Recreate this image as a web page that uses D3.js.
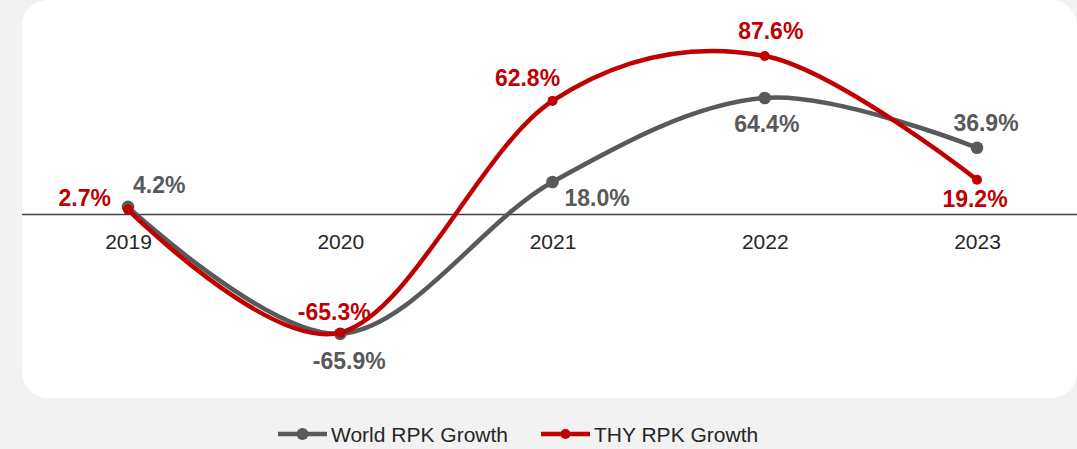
<!DOCTYPE html>
<html>
<head>
<meta charset="utf-8">
<script src="https://cdn.jsdelivr.net/npm/d3@7"></script>
<style>
  html, body { margin: 0; padding: 0; background: #f2f2f2; }
  svg { display: block; }
  text { font-family: "Liberation Sans", Arial, sans-serif; }
</style>
</head>
<body>
<svg id="chart" width="1077" height="449"></svg>
<script>
// ---- data ----
const years = ["2019", "2020", "2021", "2022", "2023"];
const worldRPK = [4.2, -65.9, 18.0, 64.4, 36.9];
const thyRPK = [2.7, -65.3, 62.8, 87.6, 19.2];
const seriesNames = ["World RPK Growth", "THY RPK Growth"];

// label placement (offsets from point, in px) and anchors
const worldLabelPos = [[5, -14, "start"], [9, 35, "middle"], [12, 24, "start"], [2, 34, "middle"], [9, -17, "middle"]];
const thyLabelPos = [[-17, -4, "end"], [-6, -13, "middle"], [-25, -15, "middle"], [6, -17, "middle"], [-2, 27, "middle"]];

const grey = "#58595b";
const red = "#c00000";

const svg = d3.select("#chart");

// panel
svg.append("rect")
  .attr("x", 22).attr("y", 0)
  .attr("width", 1055).attr("height", 398)
  .attr("rx", 26).attr("ry", 26)
  .attr("fill", "#ffffff");

const x = d3.scalePoint().domain(years).range([128, 977]);
const y = d3.scaleLinear().domain([0, 64.4]).range([214.5, 98]);

// zero line
svg.append("line")
  .attr("x1", 22).attr("x2", 1077)
  .attr("y1", y(0)).attr("y2", y(0))
  .attr("stroke", "#404040").attr("stroke-width", 1.5);

// x axis labels
const xAxis = d3.axisBottom(x).tickSize(0).tickPadding(0);
const gx = svg.append("g").attr("transform", `translate(0,${y(0) + 20})`).call(xAxis);
gx.select(".domain").remove();
gx.selectAll("text")
  .attr("font-size", 21)
  .attr("fill", "#262626")
  .attr("dy", "0.71em")
  .style("font-family", "'Liberation Sans', Arial, sans-serif");

const line = d3.line()
  .x((d, i) => x(years[i]))
  .y(d => y(d))
  .curve(d3.curveCardinal.tension(0));

function drawSeries(values, color, r) {
  svg.append("path")
    .datum(values)
    .attr("d", line)
    .attr("fill", "none")
    .attr("stroke", color)
    .attr("stroke-width", 4.5);
  svg.append("g").selectAll("circle")
    .data(values)
    .join("circle")
    .attr("cx", (d, i) => x(years[i]))
    .attr("cy", d => y(d))
    .attr("r", r)
    .attr("fill", color);
}
function drawLabels(values, color, labelPos) {
  svg.append("g").selectAll("text")
    .data(values)
    .join("text")
    .attr("x", (d, i) => x(years[i]) + labelPos[i][0])
    .attr("y", (d, i) => y(d) + labelPos[i][1])
    .attr("text-anchor", (d, i) => labelPos[i][2])
    .attr("font-size", 23)
    .attr("font-weight", "bold")
    .attr("fill", color)
    .text(d => d.toFixed(1) + "%");
}

drawSeries(worldRPK, grey, 6.3);
drawSeries(thyRPK, red, 5);
drawLabels(worldRPK, grey, worldLabelPos);
drawLabels(thyRPK, red, thyLabelPos);

// legend
const legend = [
  { name: seriesNames[0], color: grey, r: 6, x: 278 },
  { name: seriesNames[1], color: red, r: 5, x: 541 }
];
const lg = svg.append("g").attr("transform", "translate(0,434)");
legend.forEach(l => {
  lg.append("line").attr("x1", l.x).attr("x2", l.x + 49).attr("y1", 0).attr("y2", 0)
    .attr("stroke", l.color).attr("stroke-width", 4.5);
  lg.append("circle").attr("cx", l.x + 24.5).attr("cy", 0).attr("r", l.r).attr("fill", l.color);
  lg.append("text").attr("x", l.x + 53).attr("y", 8)
    .attr("font-size", 21).attr("fill", "#262626").text(l.name);
});
</script>
</body>
</html>
